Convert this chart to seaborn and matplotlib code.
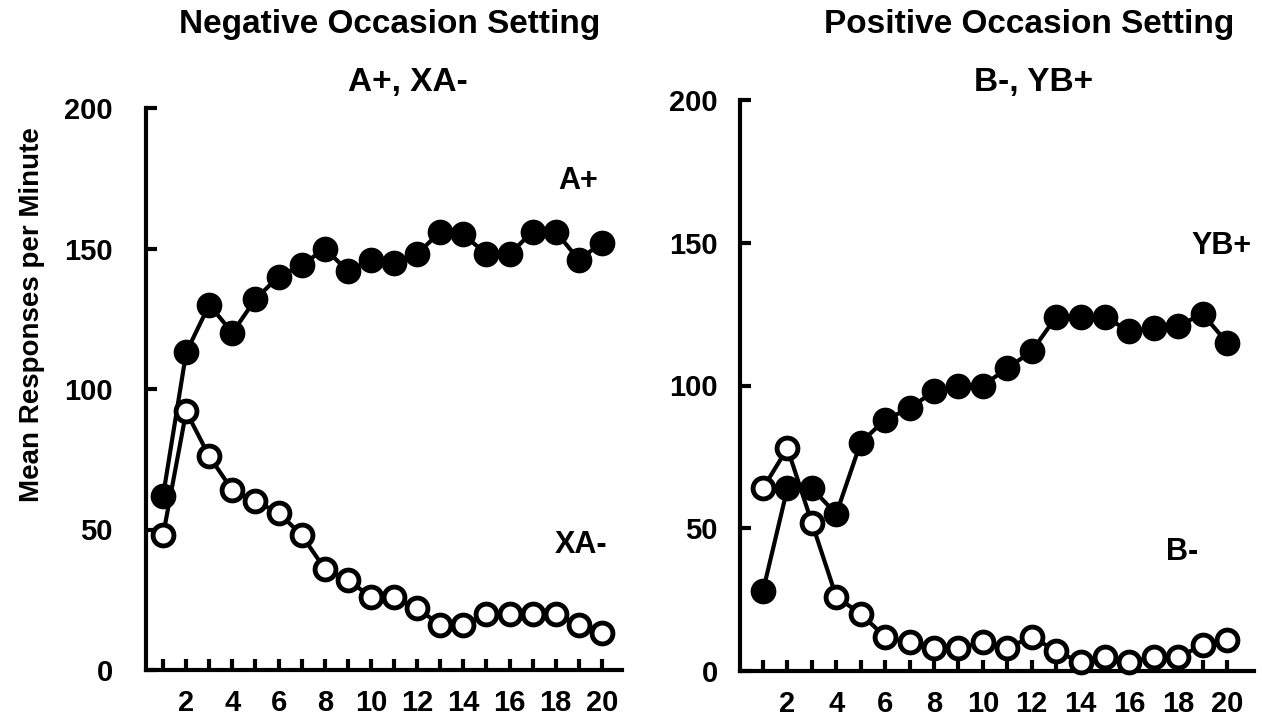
import numpy as np
import matplotlib
matplotlib.use("Agg")
import matplotlib.pyplot as plt
import seaborn as sns

# ── data ─────────────────────────────────────────────────────────────────────
sessions = list(range(1, 21))

a_plus = [62, 113, 130, 120, 132, 140, 144, 150, 142, 146,
          145, 148, 156, 155, 148, 148, 156, 156, 146, 152]
xa_minus = [48, 92, 76, 64, 60, 56, 48, 36, 32, 26,
            26, 22, 16, 16, 20, 20, 20, 20, 16, 13]

yb_plus = [28, 64, 64, 55, 80, 88, 92, 98, 100, 100,
           106, 112, 124, 124, 124, 119, 120, 121, 125, 115]
b_minus = [64, 78, 52, 26, 20, 12, 10, 8, 8, 10,
           8, 12, 7, 3, 5, 3, 5, 5, 9, 11]

y_ticks = [0, 50, 100, 150, 200]
x_tick_labels = [str(s) if s % 2 == 0 else "" for s in sessions]

sns.set_style("ticks")
plt.rcParams["font.family"] = ["Liberation Sans", "DejaVu Sans"]
plt.rcParams["font.weight"] = "bold"
plt.rcParams["text.color"] = "black"

fig = plt.figure(figsize=(12.62, 7.27), dpi=100)
W, H = 1262, 727


def add_axes(x0, x1, y_bottom, y_top):
    return fig.add_axes([x0 / W, (H - y_bottom) / H, (x1 - x0) / W, (y_bottom - y_top) / H])


def label(x, y, s, size=22, **kw):
    # positions in reference pixels (origin top-left)
    fig.text(x / W, 1 - y / H, s, fontsize=size, fontweight="bold",
             ha="center", va="center", color="black", **kw)


def style(ax, xlim, ypad):
    ax.set_xlim(*xlim)
    ax.set_ylim(0, 200)
    ax.set_xticks(sessions)
    ax.set_xticklabels(x_tick_labels)
    ax.set_yticks(y_ticks)
    ax.set_yticklabels([str(v) for v in y_ticks])
    sns.despine(ax=ax)
    for s in ["left", "bottom"]:
        ax.spines[s].set_linewidth(3)
        ax.spines[s].set_color("black")
    ax.tick_params(axis="x", direction="in", length=8, width=3, pad=14,
                   labelsize=21, colors="black")
    ax.tick_params(axis="y", direction="in", length=8, width=3, pad=ypad,
                   labelsize=21, colors="black")
    for lbl in ax.get_xticklabels() + ax.get_yticklabels():
        lbl.set_fontweight("bold")
    ax.set_xlabel("")
    ax.set_ylabel("")


def draw(ax, filled, opened):
    sns.lineplot(x=sessions, y=filled, ax=ax, color="black", linewidth=3,
                 marker="o", markersize=17, markerfacecolor="black",
                 markeredgecolor="black", markeredgewidth=1.5, zorder=3, clip_on=False)
    sns.lineplot(x=sessions, y=opened, ax=ax, color="black", linewidth=3,
                 marker="o", markersize=15, markerfacecolor="white",
                 markeredgecolor="black", markeredgewidth=3.5, zorder=4, clip_on=False)


# ── left panel ───────────────────────────────────────────────────────────────
ax1 = add_axes(146, 622, 670, 108)
draw(ax1, a_plus, xa_minus)
style(ax1, (0.26, 20.87), 24)
label(578, 181, "A+")
label(581, 545, "XA-")

# ── right panel ──────────────────────────────────────────────────────────────
ax2 = add_axes(740, 1254, 671, 100)
draw(ax2, yb_plus, b_minus)
style(ax2, (0.06, 21.1), 16)
label(1222, 246, "YB+")
label(1182, 552, "B-")

# ── titles / labels ──────────────────────────────────────────────────────────
label(390, 24, "Negative Occasion Setting", size=24)
label(408, 82, "A+, XA-", size=24)
label(1029, 24, "Positive Occasion Setting", size=24)
label(1034, 82, "B-, YB+", size=24)
label(32, 315, "Mean Responses per Minute", size=20, rotation=90)

fig.savefig("out.png", dpi=100, facecolor="white")
